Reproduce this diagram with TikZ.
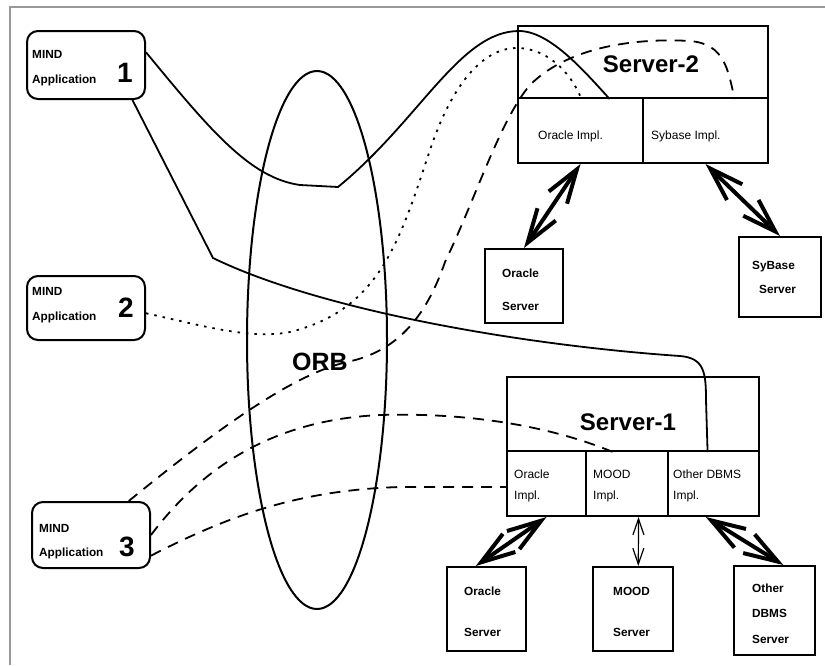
\documentclass[tikz,border=0pt]{standalone}
\usepackage{fontspec}
\setmainfont{Liberation Sans}
\usetikzlibrary{shapes.geometric,arrows.meta}

\begin{document}
\begin{tikzpicture}[x=1pt, y=-1pt,
    app/.style={draw, line width=2pt, rounded corners=11pt, minimum width=118pt, inner sep=0pt},
    box/.style={draw, line width=2pt, inner sep=0pt},
    txt/.style={inner sep=0pt, anchor=base west, font=\fontsize{11.8}{14}\selectfont\bfseries},
    impl/.style={inner sep=0pt, anchor=base west, font=\fontsize{12}{14}\selectfont},
    big/.style={inner sep=0pt, anchor=base, font=\fontsize{24}{28}\selectfont\bfseries},
    num/.style={inner sep=0pt, anchor=base, font=\fontsize{28}{32}\selectfont\bfseries},
    dbl/.style={line width=4pt, {Straight Barb[length=34pt,width=22pt]}-{Straight Barb[length=34pt,width=22pt]}},
    conn/.style={line width=1.8pt},
    dsh/.style={conn, dash pattern=on 11pt off 8pt},
    dot/.style={conn, dash pattern=on 2.5pt off 6pt},
]
    \useasboundingbox (0,0) rectangle (825,665);
    \draw[gray!80, line width=1.2pt] (10,665) -- (10,7) -- (825,7);

    \node[app, minimum height=68pt] (app1) at (86,65) {};
    \node[txt] (app1a) at (32,58) {MIND};
    \node[txt] (app1b) at (32,83) {Application};
    \node[num] (app1n) at (125,82) {1};

    \node[app, minimum height=64pt] (app2) at (86,308) {};
    \node[txt] (app2a) at (32,295) {MIND};
    \node[txt] (app2b) at (32,320) {Application};
    \node[num] (app2n) at (126,317) {2};

    \node[app, minimum height=66pt] (app3) at (91,535) {};
    \node[txt] (app3a) at (39,532) {MIND};
    \node[txt] (app3b) at (39,556) {Application};
    \node[num] (app3n) at (127,556) {3};

    \node[draw, ellipse, line width=2pt, minimum width=140pt, minimum height=538pt, inner sep=0pt] (orb) at (317,340) {};
    \node[big, font=\fontsize{25}{30}\selectfont\bfseries] (orblbl) at (320,370) {ORB};

    \node[box, minimum width=250pt, minimum height=72pt] (srv2) at (643,62) {};
    \node[big] (srv2lbl) at (651,72) {Server-2};
    \node[box, minimum width=125pt, minimum height=65pt] (s2ora) at (580.5,130.5) {};
    \node[box, minimum width=125pt, minimum height=65pt] (s2syb) at (705.5,130.5) {};
    \node[impl] (s2oralbl) at (538,139) {Oracle Impl.};
    \node[impl] (s2syblbl) at (651,139) {Sybase Impl.};

    \node[box, minimum width=78pt, minimum height=74pt] (ora2) at (524,286) {};
    \node[txt] (ora2a) at (502,277) {Oracle};
    \node[txt] (ora2b) at (502,310) {Server};
    \node[box, minimum width=82pt, minimum height=80pt] (syb) at (780,277) {};
    \node[txt] (syba) at (752,269) {SyBase};
    \node[txt] (sybb) at (759,293) {Server};

    \node[box, minimum width=252pt, minimum height=74pt] (srv1) at (633,414) {};
    \node[big] (srv1lbl) at (628,430) {Server-1};
    \node[box, minimum width=79pt, minimum height=65pt] (s1ora) at (546.5,483.5) {};
    \node[box, minimum width=82pt, minimum height=65pt] (s1mood) at (627,483.5) {};
    \node[box, minimum width=91pt, minimum height=65pt] (s1oth) at (713.5,483.5) {};
    \node[impl] (s1oraa) at (514,478) {Oracle};
    \node[impl] (s1orab) at (514,499) {Impl.};
    \node[impl] (s1mooda) at (593,478) {MOOD};
    \node[impl] (s1moodb) at (593,499) {Impl.};
    \node[impl] (s1otha) at (673,478) {Other DBMS};
    \node[impl] (s1othb) at (673,499) {Impl.};

    \node[box, minimum width=79pt, minimum height=84pt] (ora1) at (486.5,609) {};
    \node[txt] (ora1a) at (464,595) {Oracle};
    \node[txt] (ora1b) at (464,636) {Server};
    \node[box, minimum width=80pt, minimum height=84pt] (mood) at (633,609) {};
    \node[txt] (mooda) at (613,595) {MOOD};
    \node[txt] (moodb) at (613,636) {Server};
    \node[box, minimum width=81pt, minimum height=89pt] (oth) at (774.5,610.5) {};
    \node[txt] (otha) at (752,592) {Other};
    \node[txt] (othb) at (752,617) {DBMS};
    \node[txt] (othc) at (752,643) {Server};

    \draw[conn] (app1.12) .. controls (210,130) and (250,178) .. (300,185) -- (338,187)
        .. controls (420,120) and (460,31) .. (519,31) .. controls (550,31) and (585,72) .. (srv2.-132);
    \draw[conn] (app1.-37) -- (213,258) .. controls (320,310) and (520,345) .. (680,356)
        .. controls (704,358) and (706,372) .. (706,400) -- (srv1.-27);
    \draw[dot] (app2.-5) .. controls (200,325) and (250,340) .. (290,332)
        .. controls (380,310) and (400,240) .. (430,150) .. controls (450,90) and (480,48) .. (517,48)
        .. controls (545,48) and (570,70) .. (srv2.-149);
    \draw[dsh] (app3.42) .. controls (210,435) and (290,375) .. (347,362)
        .. controls (395,352) and (425,320) .. (445,262) .. controls (475,200) and (500,120) .. (530,85)
        .. controls (570,45) and (640,38) .. (690,41) .. controls (725,44) and (728,70) .. (srv2.-22.5);
    \draw[dsh] (app3.east) .. controls (200,470) and (270,420) .. (380,415)
        .. controls (480,412) and (560,430) .. (srv1.-118);
    \draw[dsh] (app3.-19) .. controls (230,515) and (300,490) .. (400,487) -- (s1ora.185);

    \draw[dbl] (s2ora.south) -- (ora2.north);
    \draw[dbl] (s2syb.south) -- (syb.north);
    \draw[dbl] (s1ora.south) -- (ora1.104);
    \draw[line width=1.2pt, {Straight Barb[length=16pt,width=11pt]}-{Straight Barb[length=16pt,width=11pt]}] (s1mood.-71) -- (mood.83);
    \draw[dbl] (s1oth.-103) -- (oth.79);
\end{tikzpicture}
\end{document}
